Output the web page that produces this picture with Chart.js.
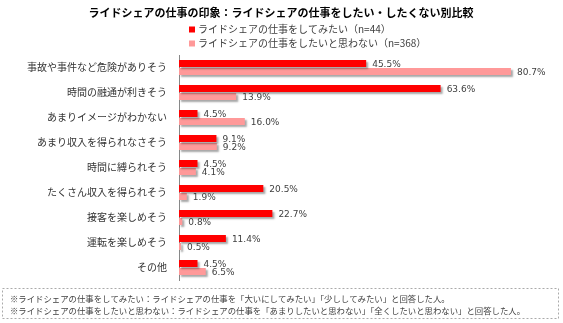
<!doctype html>
<html lang="ja">
  <head>
    <meta charset="UTF-8" />
    <title>ライドシェアの仕事の印象</title>
    <script src="https://cdn.jsdelivr.net/npm/chart.js@4.4.0/dist/chart.umd.min.js"></script>
    <style>
      html, body { margin: 0; padding: 0; background: #fff; }
      #wrap { width: 563px; height: 323px; position: relative; }
    </style>
  </head>
  <body>
    <div id="wrap"><canvas id="chart"></canvas></div>
    <script>
      const chartTitle = "ライドシェアの仕事の印象：ライドシェアの仕事をしたい・したくない別比較";
      const categories = [
        "事故や事件など危険がありそう",
        "時間の融通が利きそう",
        "あまりイメージがわかない",
        "あまり収入を得られなさそう",
        "時間に縛られそう",
        "たくさん収入を得られそう",
        "接客を楽しめそう",
        "運転を楽しめそう",
        "その他",
      ];
      const seriesNames = [
        "ライドシェアの仕事をしてみたい（n=44）",
        "ライドシェアの仕事をしたいと思わない（n=368）",
      ];
      const wantTo = [45.5, 63.6, 4.5, 9.1, 4.5, 20.5, 22.7, 11.4, 4.5];
      const dontWant = [80.7, 13.9, 16.0, 9.2, 4.1, 1.9, 0.8, 0.5, 6.5];
      const notes = [
        "※ライドシェアの仕事をしてみたい：ライドシェアの仕事を「大いにしてみたい」「少ししてみたい」と回答した人。",
        "※ライドシェアの仕事をしたいと思わない：ライドシェアの仕事を「あまりしたいと思わない」「全くしたいと思わない」と回答した人。",
      ];

      const jp = '"Noto Sans CJK JP", "Noto Sans", sans-serif';

      // drop shadow under the bars
      const barShadow = {
        id: "barShadow",
        beforeDatasetsDraw(chart) {
          const ctx = chart.ctx;
          ctx.save();
          ctx.shadowColor = "rgba(0,0,0,0.35)";
          ctx.shadowOffsetX = 2;
          ctx.shadowOffsetY = 2;
          ctx.shadowBlur = 2;
        },
        afterDatasetsDraw(chart) {
          chart.ctx.restore();
        },
      };

      // value labels right of each bar
      const valueLabels = {
        id: "valueLabels",
        afterDatasetsDraw(chart) {
          const ctx = chart.ctx;
          ctx.save();
          ctx.font = '9px "DejaVu Sans", sans-serif';
          ctx.fillStyle = "#404040";
          ctx.textBaseline = "middle";
          chart.data.datasets.forEach((ds, i) => {
            chart.getDatasetMeta(i).data.forEach((bar, j) => {
              ctx.fillText(ds.data[j].toFixed(1) + "%", bar.x + 6, bar.y + 1);
            });
          });
          ctx.restore();
        },
      };

      // title, legend and footnote box
      const decorations = {
        id: "decorations",
        afterDraw(chart) {
          const ctx = chart.ctx;
          ctx.save();
          ctx.fillStyle = "#000";
          ctx.font = "bold 11px " + jp;
          ctx.textAlign = "center";
          ctx.textBaseline = "middle";
          ctx.fillText(chartTitle, 281, 13);

          ctx.textAlign = "left";
          ctx.font = "10px " + jp;
          chart.data.datasets.forEach((ds, i) => {
            const y = 29.5 + i * 14;
            ctx.fillStyle = ds.backgroundColor;
            ctx.fillRect(189, y - 3, 6, 6);
            ctx.fillStyle = "#404040";
            ctx.fillText(ds.label, 198, y);
          });

          ctx.strokeStyle = "#aaa";
          ctx.lineWidth = 1;
          ctx.setLineDash([2, 2]);
          ctx.strokeRect(2.5, 288.5, 556, 30);
          ctx.setLineDash([]);
          ctx.fillStyle = "#404040";
          ctx.font = "8.4px " + jp;
          notes.forEach((t, i) => ctx.fillText(t, 10, 299 + i * 12));
          ctx.restore();
        },
      };

      new Chart(document.getElementById("chart"), {
        type: "bar",
        data: {
          labels: categories,
          datasets: [
            {
              label: seriesNames[0],
              data: wantTo,
              backgroundColor: "#ff0000",
              categoryPercentage: 0.64,
              barPercentage: 0.875,
            },
            {
              label: seriesNames[1],
              data: dontWant,
              backgroundColor: "#ff9999",
              categoryPercentage: 0.64,
              barPercentage: 0.875,
            },
          ],
        },
        options: {
          indexAxis: "y",
          responsive: true,
          maintainAspectRatio: false,
          animation: false,
          layout: { padding: { top: 55, bottom: 43, right: 22, left: 0 } },
          plugins: {
            legend: { display: false },
            title: { display: false },
            tooltip: { enabled: false },
          },
          scales: {
            x: { display: false, min: 0, max: 88 },
            y: {
              afterFit(scale) {
                scale.width = 179;
              },
              grid: { display: false, drawTicks: false },
              border: { display: true, color: "#888", width: 1 },
              ticks: {
                padding: 12,
                color: "#333",
                font: { family: jp, size: 10 },
              },
            },
          },
        },
        plugins: [barShadow, valueLabels, decorations],
      });
    </script>
  </body>
</html>
